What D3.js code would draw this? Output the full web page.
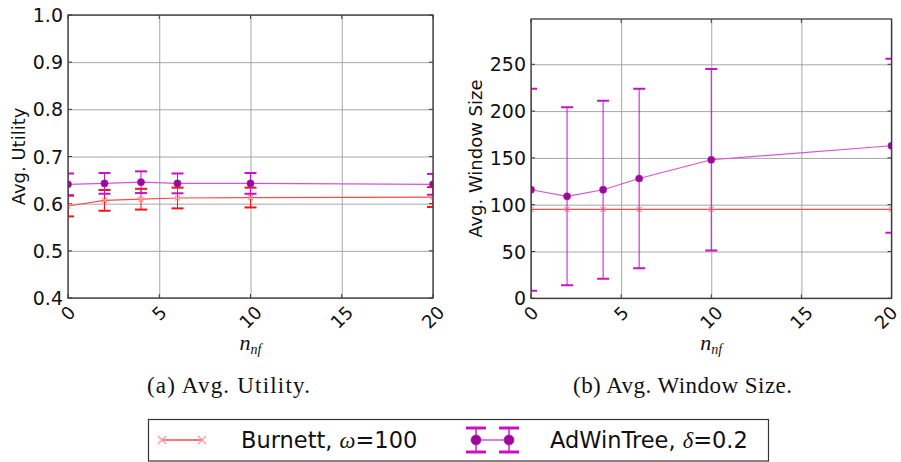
<!DOCTYPE html>
<html>
<head>
<meta charset="utf-8">
<script src="https://cdn.jsdelivr.net/npm/d3@7"></script>
<style>
  html, body { margin: 0; padding: 0; background: #fff; }
  svg { display: block; }
  text { font-family: "DejaVu Sans", sans-serif; fill: #111; }
</style>
</head>
<body>
<svg id="fig" width="901" height="462"></svg>
<script>
// n_nf values on the x axis
const nnf = [0, 2, 4, 6, 10, 20];
const xTicks = [0, 5, 10, 15, 20];

// Panel (a): average utility
const utilBurnett    = [0.595, 0.607, 0.6095, 0.612, 0.613, 0.614];
const utilBurnettStd = [0.022, 0.022, 0.022, 0.022, 0.021, 0.021];
const utilAdwin      = [0.641, 0.643, 0.6455, 0.643, 0.643, 0.641];
const utilAdwinStd   = [0.023, 0.022, 0.023, 0.021, 0.022, 0.022];
const utilTicks      = [0.4, 0.5, 0.6, 0.7, 0.8, 0.9, 1.0];

// Panel (b): average window size
const winBurnett    = [95, 95, 95, 95, 95, 95];
const winBurnettStd = [0, 0, 0, 0, 0, 0];
const winAdwin      = [116, 109, 116, 128, 148, 163];
const winAdwinStd   = [108, 95, 95, 96, 97, 93];
const winTicks      = [0, 50, 100, 150, 200, 250];

const seriesNames = ["Burnett, ", "AdWinTree, "];

const svg = d3.select("#fig");
const W = 901;

const C = {
  grid: "#a6a6a6",
  spine: "#3a3a3a",
  redLine: "#ff4a4a",
  redMark: "#ff9a9a",
  redErr: "#ff1010",
  magLine: "#d455d4",
  magMark: "#9a0a9a",
  magErr: "#c812c8"
};

function panel(opts) {
  const { id, x0, x1, yTop, yBot, yDomain, yTickVals, yFmt, yLabel, yLabelX,
          burnett, burnettStd, adwin, adwinStd } = opts;
  const x = d3.scaleLinear().domain([0, 20]).range([x0, x1]);
  const y = d3.scaleLinear().domain(yDomain).range([yBot, yTop]);
  const g = svg.append("g");

  g.append("clipPath").attr("id", "clip-" + id)
    .append("rect").attr("x", x0).attr("y", yTop)
    .attr("width", x1 - x0).attr("height", yBot - yTop);

  // grid
  g.append("g").attr("transform", `translate(0,${yBot})`)
    .call(d3.axisBottom(x).tickValues(xTicks).tickSize(-(yBot - yTop)).tickFormat(""))
    .call(s => s.select(".domain").remove())
    .call(s => s.selectAll("line").attr("stroke", C.grid).attr("stroke-width", 1));
  g.append("g").attr("transform", `translate(${x0},0)`)
    .call(d3.axisLeft(y).tickValues(yTickVals).tickSize(-(x1 - x0)).tickFormat(""))
    .call(s => s.select(".domain").remove())
    .call(s => s.selectAll("line").attr("stroke", C.grid).attr("stroke-width", 1));

  // inward tick marks on all four sides
  const tk = 4;
  const tickG = g.append("g").attr("stroke", C.spine).attr("stroke-width", 1);
  xTicks.forEach(v => {
    tickG.append("line").attr("x1", x(v)).attr("x2", x(v)).attr("y1", yBot).attr("y2", yBot - tk);
    tickG.append("line").attr("x1", x(v)).attr("x2", x(v)).attr("y1", yTop).attr("y2", yTop + tk);
  });
  yTickVals.forEach(v => {
    tickG.append("line").attr("x1", x0).attr("x2", x0 + tk).attr("y1", y(v)).attr("y2", y(v));
    tickG.append("line").attr("x1", x1).attr("x2", x1 - tk).attr("y1", y(v)).attr("y2", y(v));
  });

  const plot = g.append("g").attr("clip-path", `url(#clip-${id})`);
  const capW = 12;

  function errorBars(vals, stds, color) {
    const eg = plot.append("g").attr("stroke", color);
    nnf.forEach((n, i) => {
      if (stds[i] <= 0) return;
      const lo = y(vals[i] - stds[i]), hi = y(vals[i] + stds[i]), cx = x(n);
      eg.append("line").attr("x1", cx).attr("x2", cx).attr("y1", lo).attr("y2", hi).attr("stroke-width", 1);
      [lo, hi].forEach(yy => eg.append("line")
        .attr("x1", cx - capW / 2).attr("x2", cx + capW / 2)
        .attr("y1", yy).attr("y2", yy).attr("stroke-width", 2));
    });
  }
  const line = d3.line().x((d, i) => x(nnf[i])).y(d => y(d));

  // Burnett
  errorBars(burnett, burnettStd, C.redErr);
  plot.append("path").datum(burnett).attr("d", line)
    .attr("fill", "none").attr("stroke", C.redLine).attr("stroke-width", 1.2);
  const xm = plot.append("g").attr("stroke", C.redMark).attr("stroke-width", 1.2);
  burnett.forEach((v, i) => {
    const cx = x(nnf[i]), cy = y(v), r = 2.6;
    xm.append("path").attr("d", `M${cx - r},${cy - r}L${cx + r},${cy + r}M${cx - r},${cy + r}L${cx + r},${cy - r}`);
  });

  // AdWinTree
  errorBars(adwin, adwinStd, C.magErr);
  plot.append("path").datum(adwin).attr("d", line)
    .attr("fill", "none").attr("stroke", C.magLine).attr("stroke-width", 1.2);
  plot.append("g").selectAll("circle").data(adwin).join("circle")
    .attr("cx", (d, i) => x(nnf[i])).attr("cy", d => y(d)).attr("r", 3.6)
    .attr("fill", C.magMark).attr("stroke", "#b020b0").attr("stroke-width", 0.6);

  // frame
  g.append("rect").attr("x", x0).attr("y", yTop).attr("width", x1 - x0).attr("height", yBot - yTop)
    .attr("fill", "none").attr("stroke", C.spine).attr("stroke-width", 1.3);

  // y tick labels
  g.append("g").selectAll("text").data(yTickVals).join("text")
    .attr("x", x0 - 5).attr("y", d => y(d)).attr("text-anchor", "end")
    .attr("dominant-baseline", "central").attr("font-size", 19)
    .text(yFmt);

  // x tick labels, rotated 45 degrees and centred under each tick
  const fs = 18;
  const xl = g.append("g");
  xTicks.forEach(v => {
    const t = xl.append("text").attr("font-size", fs).attr("text-anchor", "middle")
      .attr("dominant-baseline", "central").text(String(v));
    const w = t.node().getComputedTextLength();
    const half = (w + fs * 0.95) / (2 * Math.SQRT2);
    // keep the rotated label inside the page on the right edge
    const cx = Math.min(x(v), W - 1 - half);
    t.attr("transform", `translate(${cx},${yBot + 5 + half}) rotate(-45)`);
  });

  // axis titles
  g.append("text").attr("transform", `translate(${yLabelX},${(yTop + yBot) / 2}) rotate(-90)`)
    .attr("text-anchor", "middle").attr("font-size", 18).text(yLabel);

  const xt = g.append("text").attr("x", (x0 + x1) / 2).attr("y", 350)
    .attr("text-anchor", "middle").attr("fill", "#222")
    .style("font-family", "'Liberation Serif', serif").style("font-style", "italic");
  xt.append("tspan").attr("font-size", 22).text("n");
  xt.append("tspan").attr("font-size", 14).attr("dy", 4).text("nf");
}

panel({
  id: "a", x0: 68, x1: 433, yTop: 15, yBot: 298,
  yDomain: [0.4, 1.0], yTickVals: utilTicks, yFmt: d3.format(".1f"),
  yLabel: "Avg. Utility", yLabelX: 25,
  burnett: utilBurnett, burnettStd: utilBurnettStd,
  adwin: utilAdwin, adwinStd: utilAdwinStd
});

panel({
  id: "b", x0: 531, x1: 891.5, yTop: 19, yBot: 298.3,
  yDomain: [0, 298.4], yTickVals: winTicks, yFmt: d => String(d),
  yLabel: "Avg. Window Size", yLabelX: 482,
  burnett: winBurnett, burnettStd: winBurnettStd,
  adwin: winAdwin, adwinStd: winAdwinStd
});

// sub-figure captions
const capStyle = s => s.style("font-family", "'Liberation Serif', serif").attr("font-size", 23).attr("fill", "#111");
svg.append("text").attr("x", 147).attr("y", 393).attr("textLength", 163).attr("lengthAdjust", "spacing")
  .call(capStyle).text("(a) Avg. Utility.");
svg.append("text").attr("x", 573).attr("y", 393).attr("textLength", 219).attr("lengthAdjust", "spacing")
  .call(capStyle).text("(b) Avg. Window Size.");

// legend
const lg = svg.append("g");
lg.append("rect").attr("x", 148.5).attr("y", 419.5).attr("width", 620).attr("height", 41.5)
  .attr("fill", "#fff").attr("stroke", "#333").attr("stroke-width", 1.2);

const ly = 440;
lg.append("line").attr("x1", 162).attr("x2", 202).attr("y1", ly).attr("y2", ly)
  .attr("stroke", C.redLine).attr("stroke-width", 1.4);
[162, 202].forEach(cx => {
  const r = 4;
  lg.append("path").attr("d", `M${cx - r},${ly - r}L${cx + r},${ly + r}M${cx - r},${ly + r}L${cx + r},${ly - r}`)
    .attr("stroke", C.redMark).attr("stroke-width", 1.4);
});
const t1 = lg.append("text").attr("x", 241).attr("y", 448).attr("font-size", 22.5);
t1.append("tspan").text(seriesNames[0]);
t1.append("tspan").style("font-family", "'Liberation Serif', serif").style("font-style", "italic").text("ω");
t1.append("tspan").text("=100");

lg.append("line").attr("x1", 476).attr("x2", 509).attr("y1", ly).attr("y2", ly)
  .attr("stroke", C.magLine).attr("stroke-width", 1.4);
[476, 509].forEach(cx => {
  lg.append("line").attr("x1", cx).attr("x2", cx).attr("y1", 428).attr("y2", 452)
    .attr("stroke", C.magErr).attr("stroke-width", 1.4);
  [428, 452].forEach(yy => lg.append("line").attr("x1", cx - 10).attr("x2", cx + 10)
    .attr("y1", yy).attr("y2", yy).attr("stroke", C.magErr).attr("stroke-width", 3));
  lg.append("circle").attr("cx", cx).attr("cy", ly).attr("r", 5)
    .attr("fill", C.magMark).attr("stroke", "#b020b0").attr("stroke-width", 0.8);
});
const t2 = lg.append("text").attr("x", 550).attr("y", 448).attr("font-size", 22.5);
t2.append("tspan").text(seriesNames[1]);
t2.append("tspan").style("font-family", "'Liberation Serif', serif").style("font-style", "italic").text("δ");
t2.append("tspan").text("=0.2");
</script>
</body>
</html>
